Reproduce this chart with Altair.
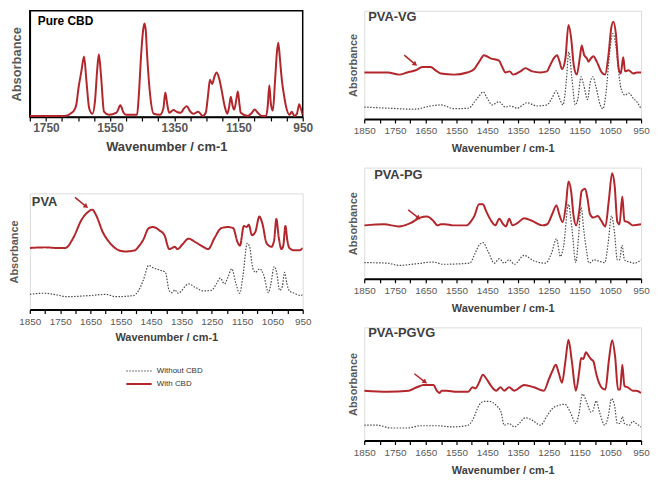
import altair as alt
import pandas as pd

FONT = "Liberation Sans"
RED = "#B3262C"
DOT = "#4a4a4a"
LABEL = "#595959"
TITLE = "#404040"

# ---------------- data (wavenumber cm-1, relative absorbance) ----------------
cbd_wn = [1800, 1750, 1700, 1683, 1670, 1662, 1655, 1648, 1640, 1631, 1624, 1615, 1605, 1597, 1590, 1585,
          1578, 1569, 1554, 1530, 1518, 1508, 1500, 1466, 1461, 1453, 1447, 1443, 1439, 1435, 1425, 1414,
          1395, 1384, 1378, 1372, 1366, 1353, 1340, 1330, 1320, 1311, 1300, 1291, 1275, 1262, 1252, 1245,
          1239, 1232, 1225, 1218, 1210, 1203, 1193, 1185, 1179, 1174, 1168, 1163, 1156, 1152, 1147, 1143,
          1121, 1108, 1100, 1090, 1078, 1064, 1059, 1054, 1049, 1043, 1036, 1030, 1026, 1021, 1015, 1008,
          1002, 991, 984, 976, 968, 961, 956, 950]
cbd_abs = [0.01, 0.01, 0.01, 0.015, 0.04, 0.06, 0.12, 0.28, 0.42, 0.57, 0.35, 0.08, 0.03, 0.15, 0.45, 0.59,
           0.38, 0.05, 0.02, 0.04, 0.11, 0.04, 0.02, 0.02, 0.18, 0.60, 0.82, 0.88, 0.82, 0.60, 0.20, 0.03,
           0.02, 0.08, 0.23, 0.12, 0.04, 0.065, 0.045, 0.04, 0.08, 0.10, 0.05, 0.03, 0.05, 0.01, 0.04, 0.20,
           0.35, 0.31, 0.38, 0.42, 0.36, 0.26, 0.10, 0.03, 0.10, 0.19, 0.10, 0.07, 0.18, 0.24, 0.12, 0.04,
           0.01, 0.04, 0.07, 0.04, 0.01, 0.01, 0.10, 0.30, 0.12, 0.06, 0.35, 0.62, 0.70, 0.55, 0.35, 0.20,
           0.10, 0.02, 0.05, 0.01, 0.03, 0.12, 0.08, 0.02]

pva_with_wn = [1850, 1800, 1760, 1733, 1706, 1680, 1658, 1644, 1631, 1610, 1588, 1556, 1535, 1503, 1492, 1476,
               1458, 1444, 1422, 1406, 1390, 1380, 1372, 1363, 1347, 1326, 1304, 1278, 1262, 1240, 1219, 1197,
               1179, 1165, 1157, 1144, 1135, 1128, 1117, 1106, 1093, 1083, 1069, 1053, 1044, 1037, 1029, 1020,
               1014, 1007, 1001, 994, 978, 961, 950]
pva_with_abs = [0.53, 0.535, 0.53, 0.53, 0.62, 0.77, 0.84, 0.86, 0.81, 0.67, 0.58, 0.51, 0.50, 0.51, 0.54, 0.60,
                0.70, 0.71, 0.68, 0.64, 0.52, 0.53, 0.54, 0.52, 0.56, 0.61, 0.58, 0.54, 0.52, 0.62, 0.70, 0.71,
                0.70, 0.58, 0.55, 0.72, 0.71, 0.73, 0.64, 0.67, 0.80, 0.74, 0.57, 0.54, 0.60, 0.78, 0.62, 0.52,
                0.55, 0.72, 0.60, 0.53, 0.51, 0.51, 0.53]
pva_wo_wn = [1850, 1803, 1760, 1728, 1653, 1599, 1567, 1508, 1492, 1476, 1458, 1444, 1422, 1403, 1390, 1380,
             1372, 1361, 1326, 1304, 1278, 1251, 1235, 1222, 1208, 1197, 1184, 1170, 1158, 1147, 1133, 1125,
             1115, 1106, 1092, 1079, 1063, 1055, 1044, 1036, 1026, 1017, 1010, 1002, 994, 978, 956, 950]
pva_wo_abs = [0.13, 0.14, 0.125, 0.11, 0.12, 0.13, 0.11, 0.12, 0.16, 0.25, 0.38, 0.36, 0.34, 0.32, 0.16, 0.145,
              0.17, 0.14, 0.22, 0.19, 0.16, 0.165, 0.22, 0.27, 0.22, 0.275, 0.35, 0.22, 0.14, 0.29, 0.57, 0.54,
              0.36, 0.32, 0.35, 0.30, 0.145, 0.22, 0.37, 0.32, 0.165, 0.20, 0.32, 0.22, 0.16, 0.14, 0.12, 0.13]

vg_with_wn = [1850, 1774, 1737, 1710, 1683, 1661, 1634, 1618, 1601, 1558, 1515, 1493, 1474, 1461, 1439, 1412,
              1402, 1391, 1377, 1366, 1342, 1326, 1304, 1277, 1256, 1245, 1234, 1223, 1215, 1207, 1196, 1186,
              1177, 1169, 1159, 1148, 1143, 1135, 1126, 1121, 1113, 1105, 1094, 1078, 1067, 1056, 1047, 1040,
              1032, 1023, 1016, 1008, 1002, 991, 975, 964, 950]
vg_with_abs = [0.43, 0.43, 0.41, 0.43, 0.45, 0.48, 0.48, 0.45, 0.42, 0.41, 0.43, 0.46, 0.54, 0.59, 0.56, 0.54,
               0.485, 0.43, 0.44, 0.41, 0.44, 0.47, 0.44, 0.43, 0.44, 0.50, 0.56, 0.59, 0.53, 0.46, 0.56, 0.87,
               0.74, 0.50, 0.41, 0.59, 0.68, 0.59, 0.56, 0.53, 0.56, 0.58, 0.53, 0.43, 0.41, 0.59, 0.84, 0.90,
               0.79, 0.47, 0.42, 0.57, 0.44, 0.45, 0.42, 0.43, 0.43]
vg_wo_wn = [1850, 1774, 1688, 1634, 1601, 1558, 1510, 1491, 1477, 1463, 1450, 1434, 1412, 1391, 1375, 1353,
            1321, 1288, 1256, 1240, 1226, 1215, 1204, 1193, 1185, 1175, 1164, 1156, 1145, 1137, 1124, 1115,
            1107, 1096, 1083, 1074, 1064, 1053, 1042, 1032, 1023, 1015, 1002, 991, 975, 964, 950]
vg_wo_abs = [0.11, 0.10, 0.09, 0.12, 0.13, 0.095, 0.10, 0.16, 0.21, 0.25, 0.19, 0.13, 0.16, 0.11, 0.12, 0.10,
             0.15, 0.12, 0.13, 0.19, 0.26, 0.19, 0.13, 0.35, 0.62, 0.38, 0.13, 0.18, 0.39, 0.32, 0.18, 0.34,
             0.39, 0.29, 0.13, 0.095, 0.24, 0.59, 0.79, 0.68, 0.44, 0.28, 0.22, 0.24, 0.19, 0.16, 0.095]

pg_with_wn = [1850, 1786, 1737, 1700, 1668, 1646, 1625, 1612, 1601, 1587, 1561, 1518, 1502, 1491, 1477, 1464,
              1454, 1437, 1424, 1411, 1398, 1389, 1379, 1368, 1352, 1330, 1304, 1271, 1255, 1239, 1225, 1216,
              1205, 1194, 1186, 1177, 1170, 1161, 1151, 1143, 1132, 1124, 1116, 1105, 1091, 1079, 1066, 1055,
              1044, 1036, 1027, 1020, 1011, 1004, 993, 977, 950]
pg_with_abs = [0.48, 0.49, 0.47, 0.50, 0.55, 0.56, 0.52, 0.48, 0.49, 0.49, 0.48, 0.48, 0.52, 0.57, 0.67, 0.67,
               0.61, 0.52, 0.48, 0.54, 0.49, 0.47, 0.54, 0.48, 0.50, 0.545, 0.52, 0.48, 0.49, 0.58, 0.66, 0.58,
               0.51, 0.67, 0.875, 0.78, 0.58, 0.48, 0.61, 0.79, 0.81, 0.72, 0.58, 0.55, 0.565, 0.52, 0.47, 0.70,
               0.95, 0.84, 0.51, 0.49, 0.74, 0.52, 0.51, 0.48, 0.49]
pg_wo_wn = [1850, 1775, 1737, 1679, 1625, 1593, 1507, 1491, 1477, 1464, 1448, 1427, 1411, 1395, 1379, 1362,
            1330, 1298, 1261, 1241, 1225, 1212, 1202, 1186, 1175, 1162, 1154, 1145, 1136, 1127, 1120, 1113,
            1105, 1089, 1068, 1057, 1046, 1037, 1027, 1020, 1012, 1004, 987, 971, 950]
pg_wo_abs = [0.145, 0.14, 0.12, 0.135, 0.15, 0.13, 0.14, 0.22, 0.30, 0.325, 0.25, 0.14, 0.18, 0.14, 0.17, 0.13,
             0.21, 0.16, 0.14, 0.23, 0.36, 0.20, 0.29, 0.67, 0.46, 0.145, 0.35, 0.64, 0.43, 0.25, 0.145, 0.145,
             0.17, 0.16, 0.145, 0.32, 0.565, 0.43, 0.17, 0.17, 0.30, 0.17, 0.15, 0.14, 0.17]

pgvg_with_wn = [1850, 1775, 1705, 1679, 1657, 1625, 1614, 1606, 1598, 1582, 1550, 1512, 1498, 1488, 1477, 1464,
                1454, 1437, 1421, 1407, 1395, 1379, 1362, 1330, 1298, 1266, 1250, 1239, 1227, 1218, 1207, 1196,
                1186, 1175, 1162, 1151, 1145, 1138, 1129, 1122, 1113, 1105, 1095, 1079, 1066, 1055, 1044, 1034,
                1025, 1018, 1011, 1004, 993, 977, 966, 950]
pgvg_with_abs = [0.44, 0.43, 0.44, 0.47, 0.49, 0.49, 0.44, 0.42, 0.44, 0.44, 0.43, 0.43, 0.47, 0.46, 0.51, 0.58,
                 0.55, 0.48, 0.44, 0.47, 0.44, 0.47, 0.44, 0.49, 0.47, 0.44, 0.54, 0.61, 0.67, 0.60, 0.51, 0.70,
                 0.89, 0.70, 0.44, 0.61, 0.73, 0.72, 0.78, 0.755, 0.72, 0.70, 0.58, 0.47, 0.45, 0.70, 0.885, 0.73,
                 0.45, 0.45, 0.67, 0.48, 0.47, 0.44, 0.44, 0.42]
pgvg_wo_wn = [1850, 1807, 1764, 1711, 1668, 1614, 1561, 1512, 1496, 1477, 1461, 1443, 1421, 1405, 1395, 1379,
              1362, 1346, 1327, 1304, 1277, 1255, 1239, 1218, 1198, 1180, 1162, 1154, 1140, 1127, 1113, 1107,
              1096, 1084, 1068, 1057, 1046, 1037, 1027, 1018, 1011, 1004, 987, 977, 966, 950]
pgvg_wo_abs = [0.135, 0.135, 0.11, 0.11, 0.13, 0.13, 0.12, 0.135, 0.19, 0.31, 0.345, 0.345, 0.31, 0.25, 0.135, 0.15,
               0.12, 0.15, 0.20, 0.18, 0.135, 0.22, 0.28, 0.31, 0.32, 0.25, 0.15, 0.21, 0.41, 0.34, 0.25, 0.26,
               0.35, 0.24, 0.135, 0.21, 0.37, 0.32, 0.15, 0.15, 0.21, 0.15, 0.135, 0.17, 0.15, 0.12]

# arrows: [start wn, start abs, end wn, end abs]
pva_arrow = [1701, 0.965, 1666, 0.89]
vg_arrow = [1720, 0.59, 1686, 0.51]
pg_arrow = [1707, 0.62, 1675, 0.55]
pgvg_arrow = [1687, 0.59, 1654, 0.52]

series_names = ["Without CBD", "With CBD"]


def frame(wn, ab):
    return pd.DataFrame({"wn": wn, "abs": ab})


def x_enc(domain, ticks, expr, lsize, tsize, lpad, tpad, dwidth, lweight="normal"):
    return alt.X("wn:Q", scale=alt.Scale(domain=domain, nice=False, zero=False),
                 axis=alt.Axis(values=ticks, format="d", labelExpr=expr, title="Wavenumber / cm-1",
                               labelFontSize=lsize, labelColor=LABEL, labelFont=FONT, labelFontWeight=lweight,
                               labelOverlap=False, labelFlush=False, labelPadding=lpad,
                               titleFontSize=tsize, titleFont=FONT, titleFontWeight="bold",
                               titleColor=TITLE, titlePadding=tpad,
                               domainColor="black", domainWidth=dwidth,
                               tickColor="black", tickSize=4, tickWidth=1.2, grid=False))


def y_enc(tsize, tpad, show_domain):
    return alt.Y("abs:Q", scale=alt.Scale(domain=[0, 1], nice=False, zero=False),
                 axis=alt.Axis(labels=False, ticks=False, grid=False, domain=show_domain,
                               domainColor="black", domainWidth=1.5, title="Absorbance",
                               titleFontSize=tsize, titleFont=FONT, titleFontWeight="bold",
                               titleColor=LABEL, titlePadding=tpad))


def label_layer(text, dx, dy, size, color):
    return alt.Chart(pd.DataFrame({"t": [text]})).mark_text(
        align="left", baseline="top", font=FONT, fontSize=size, fontWeight="bold", color=color
    ).encode(x=alt.value(dx), y=alt.value(dy), text="t:N")


def arrow_layers(a, X, Y):
    d = pd.DataFrame({"wn": [a[0]], "abs": [a[1]], "wn2": [a[2]], "abs2": [a[3]]})
    shaft = alt.Chart(d).mark_rule(color=RED, strokeWidth=1.5).encode(
        x=X, y=Y, x2=alt.X2("wn2"), y2=alt.Y2("abs2"))
    head = alt.Chart(pd.DataFrame({"wn": [a[2]], "abs": [a[3]]})).mark_point(
        shape="triangle", angle=128, size=30, filled=True, color=RED, opacity=1).encode(x=X, y=Y)
    return [shaft, head]


def right_panel(name, with_wn, with_abs, wo_wn, wo_abs, arrow, height, tdx, tdy):
    X = x_enc([1850, 950], list(range(950, 1851, 50)),
              "datum.value % 100 == 50 ? datum.label : ''", 10, 11, 3, 7, 2)
    Y = y_enc(11, 6, False)
    dotted = alt.Chart(frame(wo_wn, wo_abs)).mark_line(
        color=DOT, strokeWidth=1.2, strokeDash=[1.5, 1.5], interpolate="monotone", clip=True).encode(x=X, y=Y)
    solid = alt.Chart(frame(with_wn, with_abs)).mark_line(
        color=RED, strokeWidth=2, interpolate="monotone", clip=True).encode(x=X, y=Y)
    layers = [dotted, solid] + arrow_layers(arrow, X, Y) + [label_layer(name, tdx, tdy, 13, TITLE)]
    return alt.layer(*layers).properties(
        width=279, height=height, view=alt.ViewBackground(stroke="#dcdcdc", strokeWidth=1))


# ---- Pure CBD ----
Xc = x_enc([1800, 950], list(range(950, 1801, 50)),
           "(datum.value - 950) % 200 == 0 ? datum.label : ''", 12, 13, 2, 7, 1.5, "bold")
Yc = y_enc(13, 6, True)
pure = alt.layer(
    alt.Chart(frame(cbd_wn, cbd_abs)).mark_line(
        color=RED, strokeWidth=2, interpolate="monotone", clip=True).encode(x=Xc, y=Yc),
    label_layer("Pure CBD", 8, 5, 12, "black"),
).properties(width=275, height=107, view=alt.ViewBackground(stroke="black", strokeWidth=1.5))

# ---- PVA with legend ----
Xp = x_enc([1850, 950], list(range(950, 1851, 50)),
           "datum.value % 100 == 50 ? datum.label : ''", 10, 11, 3, 5, 2)
Yp = y_enc(11, 10, False)
pva_long = pd.concat([
    frame(pva_wo_wn, pva_wo_abs).assign(series=series_names[0]),
    frame(pva_with_wn, pva_with_abs).assign(series=series_names[1]),
])
leg = alt.Legend(title=None, orient="none", legendX=96, legendY=357, symbolType="stroke",
                 symbolSize=650, clipHeight=12, labelFont=FONT, labelFontSize=8, labelColor="#333333",
                 rowPadding=1, labelOffset=4)
pva_lines = alt.Chart(pva_long).mark_line(interpolate="monotone", clip=True).encode(
    x=Xp, y=Yp,
    color=alt.Color("series:N", scale=alt.Scale(domain=series_names, range=[DOT, RED]), legend=leg),
    strokeDash=alt.StrokeDash("series:N", scale=alt.Scale(domain=series_names, range=[[1.5, 1.5], [1, 0]]), legend=leg),
    strokeWidth=alt.StrokeWidth("series:N", scale=alt.Scale(domain=series_names, range=[1.2, 2]), legend=leg),
)
pva = alt.layer(
    pva_lines, *arrow_layers(pva_arrow, Xp, Yp), label_layer("PVA", 2, 3, 13, TITLE)
).properties(width=275, height=117, view=alt.ViewBackground(stroke="#dcdcdc", strokeWidth=1))

vg = right_panel("PVA-VG", vg_with_wn, vg_with_abs, vg_wo_wn, vg_wo_abs, vg_arrow, 109, 4, 0)
pg = right_panel("PVA-PG", pg_with_wn, pg_with_abs, pg_wo_wn, pg_wo_abs, pg_arrow, 112, 10, 2)
pgvg = right_panel("PVA-PGVG", pgvg_with_wn, pgvg_with_abs, pgvg_wo_wn, pgvg_wo_abs, pgvg_arrow, 114, 4, 0)

left = alt.vconcat(pure, pva, spacing=38)
right = alt.vconcat(vg, pg, pgvg, spacing=12)

chart = alt.hconcat(left, right, spacing=33).properties(padding=0).configure(
    font=FONT, background="white")

chart.save("out.html", embed_options={"renderer": "svg", "actions": False})
